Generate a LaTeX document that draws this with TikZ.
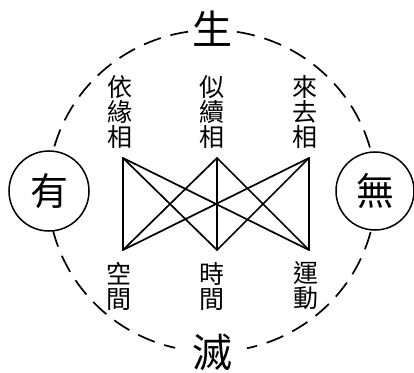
\documentclass[tikz,border=0pt]{standalone}
\usepackage{fontspec}
\newfontfamily\cjk{Noto Sans CJK TC}
\begin{document}
\begin{tikzpicture}[x=1pt,y=1pt,
  edge/.style={line width=1.7pt, line cap=round},
  rim/.style={line width=1.7pt, dash pattern=on 18pt off 10pt},
  lbl/.style={align=center, font=\cjk\fontsize{25}{25}\selectfont, inner sep=0pt},
  pole/.style={circle, draw, line width=1.5pt, fill=white, minimum size=80pt, inner sep=0pt, font=\cjk\fontsize{38}{38}\selectfont},
  big/.style={font=\cjk\fontsize{40}{40}\selectfont, inner sep=0pt}]
\useasboundingbox (0,0) rectangle (414,372);
\coordinate (C) at (212,181);
% dashed ellipse in four arcs
\draw[rim] ([shift={(C)}] 98.4:164pt and 161pt) arc[start angle=98.4, end angle=166.2, x radius=164pt, y radius=161pt];
\draw[rim] ([shift={(C)}] 193.8:164pt and 161pt) arc[start angle=193.8, end angle=257, x radius=164pt, y radius=161pt];
\draw[rim] ([shift={(C)}] 345.2:164pt and 161pt) arc[start angle=345.2, end angle=282.3, x radius=164pt, y radius=161pt];
\draw[rim] ([shift={(C)}] 81.2:164pt and 161pt) arc[start angle=81.2, end angle=14.8, x radius=164pt, y radius=161pt];
% poles
\node[pole] (you) at (49,181) {有};
\node[pole, minimum size=78pt] (wu) at (375,181) {無};
\node[big] (sheng) at (212,343.5) {生};
\node[big] (mie) at (212,20) {滅};
% graph
\coordinate (t1) at (123,214);
\coordinate (t2) at (217,214);
\coordinate (t3) at (309,214);
\coordinate (b1) at (123,122);
\coordinate (b2) at (217,122);
\coordinate (b3) at (309,122);
\foreach \a in {t1,t2,t3} {\foreach \b in {b1,b2,b3} {\draw[edge] (\a) -- (\b);}}
% labels
\node[lbl] (l1) at (120,259.5) {依\\緣\\相};
\node[lbl] (l2) at (212,259.5) {似\\續\\相};
\node[lbl] (l3) at (305,259.5) {來\\去\\相};
\node[lbl] (m1) at (119,86) {空\\間};
\node[lbl] (m2) at (212,86) {時\\間};
\node[lbl] (m3) at (306,86) {運\\動};
\end{tikzpicture}
\end{document}
